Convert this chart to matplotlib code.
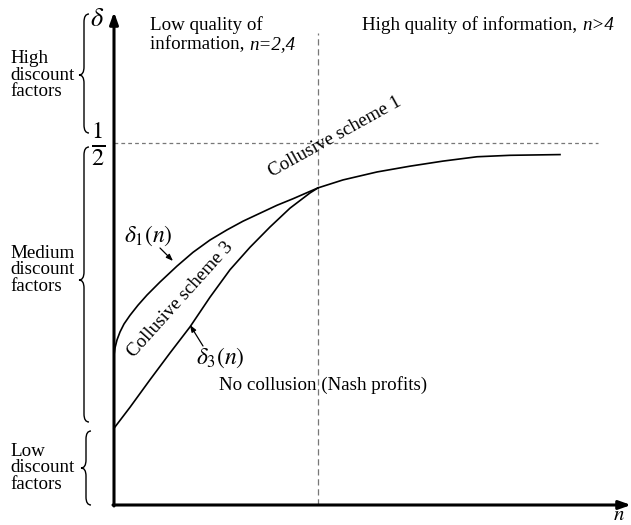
import numpy as np
import matplotlib.pyplot as plt
from matplotlib.path import Path
from matplotlib.patches import PathPatch

plt.rcParams['font.family'] = ['Liberation Serif', 'DejaVu Serif']
plt.rcParams['mathtext.fontset'] = 'stix'

# curves (n, delta)
d1_n = [0.0, 0.0196, 0.0588, 0.1176, 0.1961, 0.3137, 0.4706, 0.6471, 0.902, 1.2353,
        1.549, 1.8824, 2.2157, 2.5294, 2.8627, 3.1961, 3.5098, 4.0]
d1_v = [0.207, 0.217, 0.228, 0.239, 0.250, 0.262, 0.276, 0.290, 0.308, 0.330,
        0.349, 0.366, 0.380, 0.392, 0.403, 0.414, 0.423, 0.438]
d3_n = [0.0, 0.314, 0.706, 1.098, 1.490, 1.882, 2.275, 2.667, 3.059, 3.451, 3.843, 4.0]
d3_v = [0.106, 0.135, 0.173, 0.210, 0.246, 0.287, 0.325, 0.356, 0.384, 0.410, 0.431, 0.438]
tail_n = [4.0, 4.490, 5.157, 5.804, 6.451, 7.118, 7.765, 8.745]
tail_v = [0.438, 0.449, 0.460, 0.468, 0.475, 0.481, 0.483, 0.484]
half = 0.5
n_split = 4.0

W, H = 631, 525
X0, Y0 = 114, 505          # origin in pixels
SX, SY = 51.0, 724.0       # pixels per unit


def px(x, y):
    # pixel position -> data coords
    return (x - X0) / SX, (Y0 - y) / SY


fig = plt.figure(figsize=(W / 100, H / 100), dpi=100)
ax = fig.add_axes([0, 0, 1, 1])
ax.set_xlim(px(0, 0)[0], px(W, 0)[0])
ax.set_ylim(px(0, H)[1], px(0, 0)[1])
ax.axis('off')

# axes with arrows
ax.annotate('', xy=px(114, 12), xytext=px(114, 506),
            arrowprops=dict(arrowstyle='-|>,head_width=0.25,head_length=0.7', lw=2.2, color='black',
                            shrinkA=0, shrinkB=0))
ax.annotate('', xy=px(631, 505), xytext=px(113, 505),
            arrowprops=dict(arrowstyle='-|>,head_width=0.25,head_length=0.7', lw=2.2, color='black',
                            shrinkA=0, shrinkB=0))

# reference lines
ax.plot([0, px(598, 0)[0]], [half, half], color='#777777', lw=0.9, dashes=(3, 2.5))
ax.plot([n_split, n_split], [0, px(0, 33)[1]], color='#777777', lw=0.9, dashes=(5, 3))

# curves
ax.plot(d1_n, d1_v, color='black', lw=1.2)
ax.plot(d3_n, d3_v, color='black', lw=1.2)
ax.plot(tail_n, tail_v, color='black', lw=1.2)


def brace(x, y0, y1, ym, w=5, r=8):
    pts = [px(x + w, y0), px(x, y0), px(x, y0 + r),
           px(x, ym - r), px(x, ym), px(x - w, ym),
           px(x, ym), px(x, ym + r),
           px(x, y1 - r), px(x, y1), px(x + w, y1)]
    codes = [Path.MOVETO, Path.CURVE3, Path.CURVE3,
             Path.LINETO, Path.CURVE3, Path.CURVE3,
             Path.CURVE3, Path.CURVE3,
             Path.LINETO, Path.CURVE3, Path.CURVE3]
    ax.add_patch(PathPatch(Path(pts, codes), fill=False, lw=1.0, color='black'))


brace(84, 14, 133, 75)
brace(84, 147, 422, 280)
brace(86, 431, 505, 468)

fs = 13.7
for (x, y), s in [((10, 75), 'High\ndiscount\nfactors'),
                  ((10, 270), 'Medium\ndiscount\nfactors'),
                  ((10, 468), 'Low\ndiscount\nfactors')]:
    ax.text(*px(x, y), s, fontsize=fs, ha='left', va='center', linespacing=0.95)

ax.text(*px(97, 20), r'$\delta$', fontsize=19, ha='center', va='center')
ax.text(*px(98, 144), r'$\frac{1}{2}$', fontsize=25, ha='center', va='center')
ax.text(*px(619, 516), r'$n$', fontsize=15, ha='center', va='center')

fig.canvas.draw()
rend = fig.canvas.get_renderer()


def rich(x, y, parts):
    # place plain and italic pieces one after another (pixel coords, baseline)
    cx = x
    for s, st in parts:
        t = ax.text(*px(cx, y), s, fontsize=fs, fontstyle=st, ha='left', va='baseline')
        cx += t.get_window_extent(rend).width


rich(150, 30, [('Low quality of', 'normal')])
rich(150, 49, [('information, ', 'normal'), ('n=2,4', 'italic')])
rich(362, 30, [('High quality of information, ', 'normal'), ('n>4', 'italic')])

ax.text(*px(335, 137), 'Collusive scheme 1', fontsize=fs, rotation=29,
        ha='center', va='center', rotation_mode='anchor')
ax.text(*px(180, 300), 'Collusive scheme 3', fontsize=fs, rotation=48,
        ha='center', va='center', rotation_mode='anchor')
ax.text(*px(323, 385), 'No collusion (Nash profits)', fontsize=fs, ha='center', va='center')

ax.text(*px(148, 236), r'$\delta_1(n)$', fontsize=17, ha='center', va='center')
ax.text(*px(220, 358), r'$\delta_3(n)$', fontsize=17, ha='center', va='center')
ax.annotate('', xy=px(173, 261), xytext=px(160, 248),
            arrowprops=dict(arrowstyle='-|>,head_width=0.15,head_length=0.4', lw=0.9, color='black',
                            shrinkA=0, shrinkB=0))
ax.annotate('', xy=px(190, 325), xytext=px(203, 346),
            arrowprops=dict(arrowstyle='-|>,head_width=0.15,head_length=0.4', lw=0.9, color='black',
                            shrinkA=0, shrinkB=0))

fig.savefig('out.png', dpi=100)
